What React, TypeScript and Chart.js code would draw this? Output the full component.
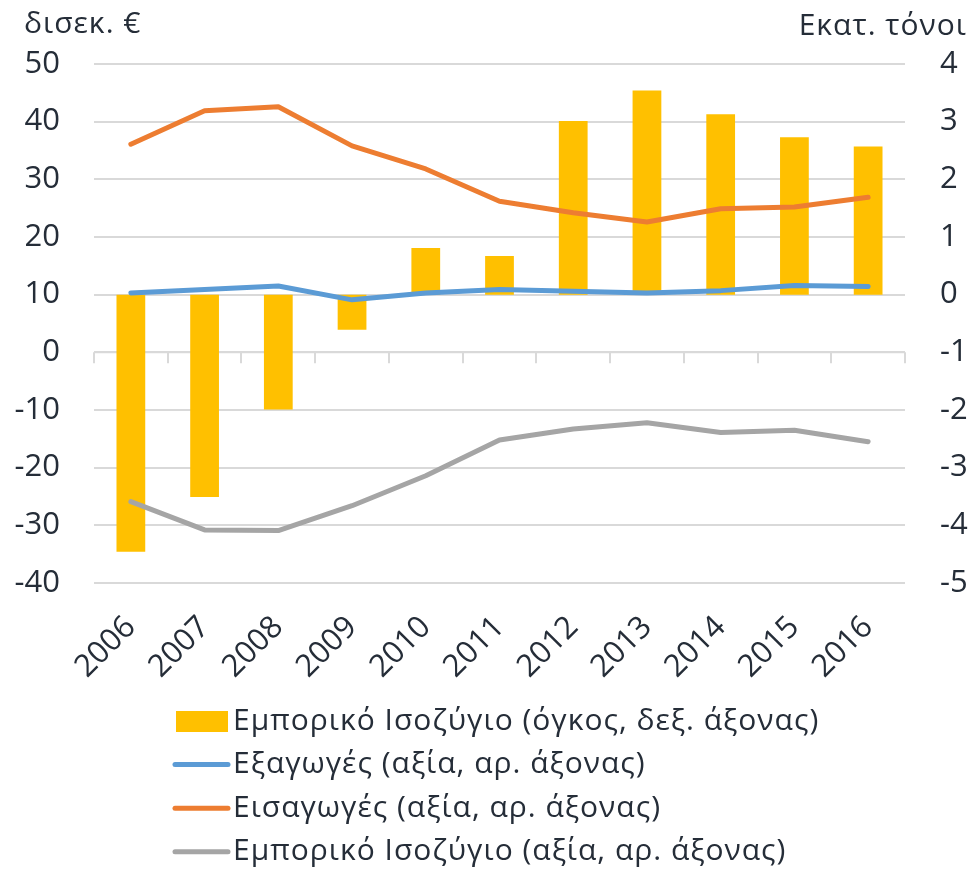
import React, { useEffect, useRef } from "react";
import { Chart, registerables } from "chart.js";

Chart.register(...registerables);

const years = ["2006", "2007", "2008", "2009", "2010", "2011", "2012", "2013", "2014", "2015", "2016"];
const balanceVolume = [-4.46, -3.51, -1.99, -0.61, 0.81, 0.67, 3.01, 3.54, 3.13, 2.73, 2.57];
const exportsValue = [10.3, 10.9, 11.5, 9.1, 10.3, 10.9, 10.6, 10.3, 10.7, 11.6, 11.4];
const importsValue = [36.1, 41.9, 42.6, 35.8, 31.8, 26.2, 24.2, 22.6, 24.9, 25.2, 26.9];
const balanceValue = [-25.9, -30.8, -30.9, -26.6, -21.4, -15.2, -13.3, -12.2, -13.9, -13.5, -15.5];

const leftTitle = "δισεκ. €";
const rightTitle = "Εκατ. τόνοι";
const labelBar = "Εμπορικό Ισοζύγιο (όγκος, δεξ. άξονας)";
const labelExports = "Εξαγωγές (αξία, αρ. άξονας)";
const labelImports = "Εισαγωγές (αξία, αρ. άξονας)";
const labelBalance = "Εμπορικό Ισοζύγιο (αξία, αρ. άξονας)";

const FONT = "'Open Sans', 'Noto Sans', sans-serif";
const TEXT = "#252d38";
const GRID = "#d9d9d9";

const overlayPlugin = {
  id: "overlay",
  beforeDatasetsDraw(chart: any) {
    const { ctx, chartArea, scales } = chart;
    const y0 = scales.y.getPixelForValue(0);
    const xs = scales.x;
    ctx.save();
    ctx.strokeStyle = GRID;
    ctx.lineWidth = 2;
    ctx.beginPath();
    ctx.moveTo(chartArea.left, y0);
    ctx.lineTo(chartArea.right, y0);
    for (let i = 0; i <= years.length; i++) {
      const px = Math.round(xs.getPixelForValue(i - 0.5));
      ctx.moveTo(px, y0);
      ctx.lineTo(px, y0 + 11);
    }
    ctx.stroke();
    ctx.restore();
  },
  afterDraw(chart: any) {
    const { ctx, scales } = chart;
    ctx.save();
    ctx.fillStyle = TEXT;
    ctx.font = `30px ${FONT}`;
    (ctx as any).letterSpacing = "1px";
    ctx.textBaseline = "alphabetic";
    ctx.textAlign = "left";
    ctx.fillText(leftTitle, 24, 33);
    ctx.textAlign = "right";
    ctx.fillText(rightTitle, 967, 35);

    const top = scales.x.bottom;
    const datasets = chart.data.datasets;
    ctx.font = `30px ${FONT}`;
    (ctx as any).letterSpacing = "1px";
    ctx.textAlign = "left";
    ctx.textBaseline = "middle";
    datasets.forEach((ds: any, i: number) => {
      const cy = top + 18 + i * 43.6;
      if (ds.type === "bar") {
        ctx.fillStyle = ds.backgroundColor;
        ctx.fillRect(176, cy - 10, 52, 21);
      } else {
        ctx.strokeStyle = ds.borderColor;
        ctx.lineWidth = 5;
        ctx.lineCap = "round";
        ctx.beginPath();
        ctx.moveTo(175, cy);
        ctx.lineTo(228, cy);
        ctx.stroke();
      }
      ctx.fillStyle = TEXT;
      ctx.fillText(ds.label, 233, cy);
    });
    ctx.restore();
  },
};

export default function App() {
  const ref = useRef<HTMLCanvasElement>(null);

  useEffect(() => {
    document.body.style.margin = "0";
    if (!ref.current) return;
    const lineBase = {
      type: "line" as const,
      yAxisID: "y",
      borderWidth: 5,
      pointRadius: 0,
      pointHoverRadius: 0,
      tension: 0,
      borderJoinStyle: "round" as const,
      borderCapStyle: "round" as const,
      fill: false,
    };
    const chart = new Chart(ref.current, {
      type: "bar",
      data: {
        labels: years,
        datasets: [
          {
            type: "bar",
            label: labelBar,
            data: balanceVolume,
            yAxisID: "y1",
            backgroundColor: "#ffc000",
            borderWidth: 0,
            barPercentage: 0.39,
            categoryPercentage: 1,
            order: 10,
          } as any,
          { ...lineBase, label: labelExports, data: exportsValue, borderColor: "#5b9bd5", backgroundColor: "#5b9bd5", order: 3 },
          { ...lineBase, label: labelImports, data: importsValue, borderColor: "#ed7d31", backgroundColor: "#ed7d31", order: 2 },
          { ...lineBase, label: labelBalance, data: balanceValue, borderColor: "#a5a5a5", backgroundColor: "#a5a5a5", order: 1 },
        ],
      },
      options: {
        responsive: false,
        animation: false,
        layout: { padding: { top: 64, left: 0, right: 0, bottom: 167 } },
        plugins: {
          legend: { display: false },
          title: { display: false },
          tooltip: { enabled: false },
        },
        scales: {
          x: {
            offset: true,
            grid: { display: false },
            border: { display: false },
            ticks: {
              color: TEXT,
              font: { family: FONT, size: 31 },
              minRotation: 45,
              maxRotation: 45,
              padding: 18,
              autoSkip: false,
            },
            afterFit: (s: any) => {
              s.height = 120;
            },
          },
          y: {
            position: "left",
            min: -40,
            max: 50,
            grid: { color: GRID, lineWidth: 2, drawTicks: false },
            border: { display: false },
            ticks: {
              stepSize: 10,
              color: TEXT,
              font: { family: FONT, size: 31 },
              padding: 34,
            },
            afterFit: (s: any) => {
              s.width = 94;
            },
          },
          y1: {
            position: "right",
            min: -5,
            max: 4,
            grid: { display: false, drawTicks: false },
            border: { display: false },
            ticks: {
              stepSize: 1,
              color: TEXT,
              font: { family: FONT, size: 31 },
              padding: 35,
            },
            afterFit: (s: any) => {
              s.width = 66;
            },
          },
        },
      },
      plugins: [overlayPlugin],
    });
    return () => chart.destroy();
  }, []);

  return (
    <div style={{ width: 971, height: 870 }}>
      <canvas ref={ref} width={971} height={870} style={{ display: "block" }} />
    </div>
  );
}
